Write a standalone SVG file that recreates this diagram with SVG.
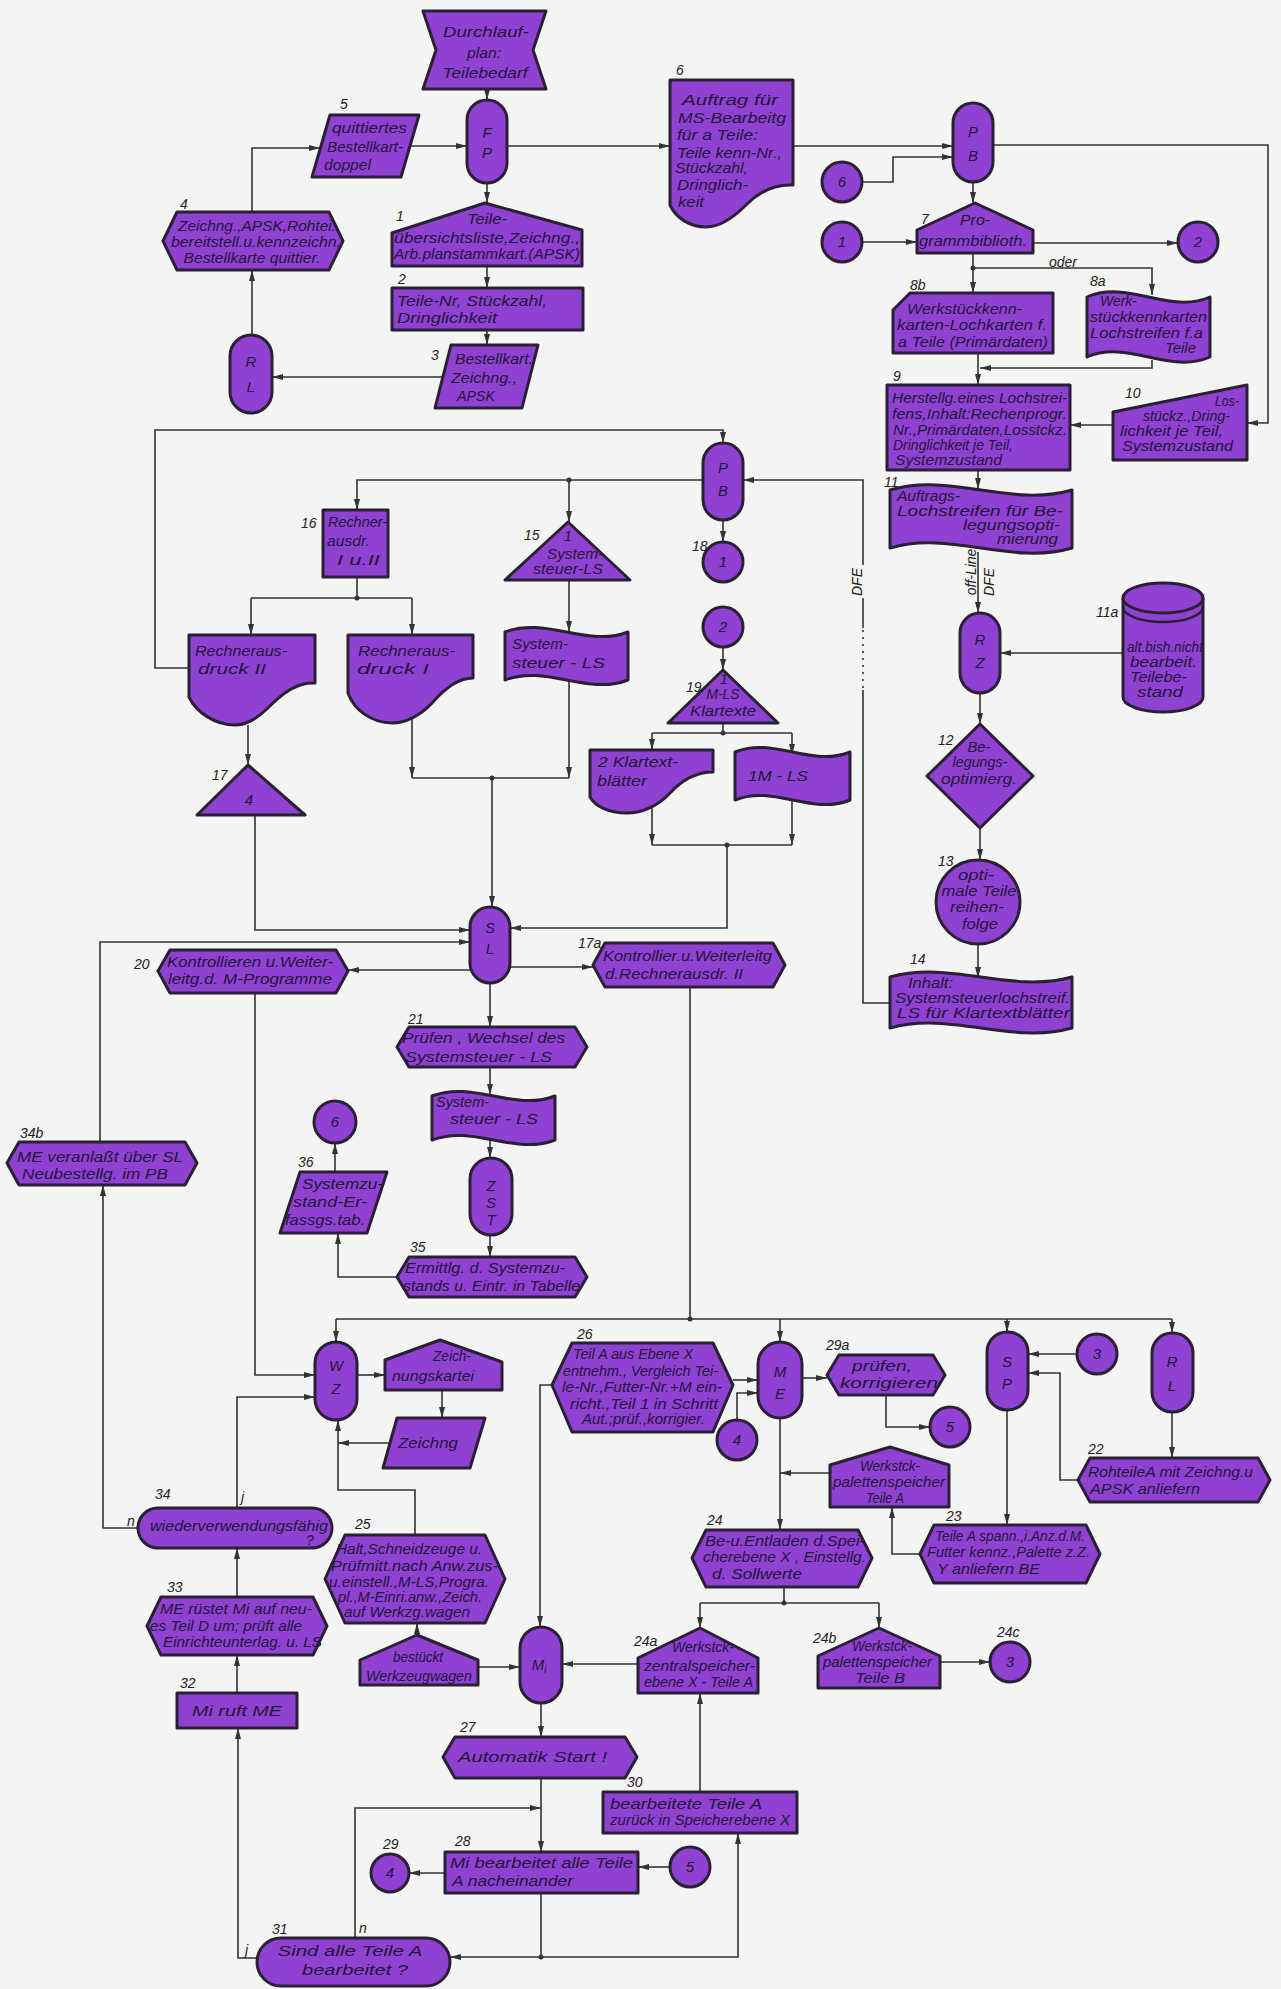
<svg xmlns="http://www.w3.org/2000/svg" width="1281" height="1989" viewBox="0 0 1281 1989">
<defs>
<style>
.n{fill:#8f42d2;stroke:#2b1f36;stroke-width:3;stroke-linejoin:round}
.c path{fill:none;stroke:#333;stroke-width:1.6}
.t{font-family:"Liberation Sans",Arial,sans-serif;font-style:italic;font-size:14px;fill:#24143a}
.m{text-anchor:middle}
.k{font-size:15px}
.l{font-family:"Liberation Sans",Arial,sans-serif;font-style:italic;font-size:14px;fill:#222}
.d{fill:#333}
</style>
<marker id="a" markerWidth="12" markerHeight="8" refX="11" refY="4" orient="auto" markerUnits="userSpaceOnUse"><path d="M0,1 L11,4 L0,7 Z" fill="#333"/></marker>
</defs>
<rect width="1281" height="1989" fill="#f4f4f2"/>

<g class="c" id="connectors">
<path d="M487,89V100" marker-end="url(#a)"/>
<path d="M409,146H467" marker-end="url(#a)"/>
<path d="M507,146H670" marker-end="url(#a)"/>
<path d="M487,183V203" marker-end="url(#a)"/>
<path d="M487,266V288" marker-end="url(#a)"/>
<path d="M487,330V345" marker-end="url(#a)"/>
<path d="M443,377H272" marker-end="url(#a)"/>
<path d="M252,335V270" marker-end="url(#a)"/>
<path d="M252,212V148H320" marker-end="url(#a)"/>
<path d="M793,146H953" marker-end="url(#a)"/>
<path d="M862,182H893V157H953" marker-end="url(#a)"/>
<path d="M862,242H917" marker-end="url(#a)"/>
<path d="M973,182V203" marker-end="url(#a)"/>
<path d="M993,145H1268V423H1247" marker-end="url(#a)"/>
<path d="M1033,243H1178" marker-end="url(#a)"/>
<path d="M973,253V293" marker-end="url(#a)"/>
<path d="M973,268H1152V295" marker-end="url(#a)"/>
<path d="M1152,360V368H980" marker-end="url(#a)"/>
<path d="M978,353V385" marker-end="url(#a)"/>
<path d="M1113,425H1070" marker-end="url(#a)"/>
<path d="M978,470V489" marker-end="url(#a)"/>
<path d="M978,552V613" marker-end="url(#a)"/>
<path d="M1123,653H1000" marker-end="url(#a)"/>
<path d="M980,693V724" marker-end="url(#a)"/>
<path d="M980,828V860" marker-end="url(#a)"/>
<path d="M978,944V978" marker-end="url(#a)"/>
<path d="M890,1003H863V690"/>
<path d="M863,688V628" stroke-dasharray="2 5"/>
<path d="M863,628V598"/>
<path d="M863,565V480H743" marker-end="url(#a)"/>
<path d="M723,520V542" marker-end="url(#a)"/>
<path d="M723,647V670" marker-end="url(#a)"/>
<path d="M723,723V733M652,733H792"/>
<path d="M652,733V750" marker-end="url(#a)"/>
<path d="M792,733V755" marker-end="url(#a)"/>
<path d="M652,808V845" marker-end="url(#a)"/>
<path d="M792,800V845" marker-end="url(#a)"/>
<path d="M652,845H792"/>
<path d="M727,845V928H510" marker-end="url(#a)"/>
<path d="M703,480H357V510" marker-end="url(#a)"/>
<path d="M569,480V522" marker-end="url(#a)"/>
<path d="M189,668H155V430H723V443" marker-end="url(#a)"/>
<path d="M357,577V598M251,598H412"/>
<path d="M251,598V635" marker-end="url(#a)"/>
<path d="M412,598V635" marker-end="url(#a)"/>
<path d="M248,725V765" marker-end="url(#a)"/>
<path d="M255,815V930H470" marker-end="url(#a)"/>
<path d="M412,712V778" marker-end="url(#a)"/>
<path d="M569,680V778" marker-end="url(#a)"/>
<path d="M412,778H569"/>
<path d="M492,778V907" marker-end="url(#a)"/>
<path d="M569,580V632" marker-end="url(#a)"/>
<path d="M510,967H593" marker-end="url(#a)"/>
<path d="M470,970H348" marker-end="url(#a)"/>
<path d="M100,1142V942H470" marker-end="url(#a)"/>
<path d="M255,993V1375H315" marker-end="url(#a)"/>
<path d="M690,987V1319M336,1319H1172"/>
<path d="M336,1319V1342" marker-end="url(#a)"/>
<path d="M780,1319V1342" marker-end="url(#a)"/>
<path d="M1007,1319V1332" marker-end="url(#a)"/>
<path d="M1172,1319V1333" marker-end="url(#a)"/>
<path d="M490,983V1027" marker-end="url(#a)"/>
<path d="M490,1067V1095" marker-end="url(#a)"/>
<path d="M490,1140V1158" marker-end="url(#a)"/>
<path d="M490,1235V1257" marker-end="url(#a)"/>
<path d="M397,1277H338V1233" marker-end="url(#a)"/>
<path d="M335,1172V1143" marker-end="url(#a)"/>
<path d="M357,1375H385" marker-end="url(#a)"/>
<path d="M442,1390V1418" marker-end="url(#a)"/>
<path d="M390,1443H338" marker-end="url(#a)"/>
<path d="M338,1443V1420" marker-end="url(#a)"/>
<path d="M338,1443V1490H415V1535"/>
<path d="M237,1508V1397H315" marker-end="url(#a)"/>
<path d="M138,1528H103V1185" marker-end="url(#a)"/>
<path d="M237,1597V1548" marker-end="url(#a)"/>
<path d="M237,1693V1655" marker-end="url(#a)"/>
<path d="M257,1958H238V1728" marker-end="url(#a)"/>
<path d="M355,1938V1808H541" marker-end="url(#a)"/>
<path d="M541,1778V1852" marker-end="url(#a)"/>
<path d="M541,1703V1737" marker-end="url(#a)"/>
<path d="M552,1385H540V1627" marker-end="url(#a)"/>
<path d="M417,1635V1623" marker-end="url(#a)"/>
<path d="M478,1667H520" marker-end="url(#a)"/>
<path d="M638,1664H562" marker-end="url(#a)"/>
<path d="M700,1792V1693" marker-end="url(#a)"/>
<path d="M541,1893V1957H450" marker-end="url(#a)"/>
<path d="M541,1957H738V1833" marker-end="url(#a)"/>
<path d="M670,1867H638" marker-end="url(#a)"/>
<path d="M445,1873H409" marker-end="url(#a)"/>
<path d="M733,1380H758" marker-end="url(#a)"/>
<path d="M737,1420V1393H758" marker-end="url(#a)"/>
<path d="M802,1378H827" marker-end="url(#a)"/>
<path d="M886,1395V1427H930" marker-end="url(#a)"/>
<path d="M780,1418V1530" marker-end="url(#a)"/>
<path d="M830,1473H780" marker-end="url(#a)"/>
<path d="M784,1587V1603M700,1603H879"/>
<path d="M700,1603V1628" marker-end="url(#a)"/>
<path d="M879,1603V1628" marker-end="url(#a)"/>
<path d="M940,1662H990" marker-end="url(#a)"/>
<path d="M1077,1354H1028" marker-end="url(#a)"/>
<path d="M1078,1480H1060V1373H1028" marker-end="url(#a)"/>
<path d="M1172,1412V1458" marker-end="url(#a)"/>
<path d="M1007,1410V1525" marker-end="url(#a)"/>
<path d="M920,1554H892V1507" marker-end="url(#a)"/>
<circle class="d" cx="973" cy="268" r="2.5"/>
<circle class="d" cx="569" cy="480" r="2.5"/>
<circle class="d" cx="357" cy="598" r="2.5"/>
<circle class="d" cx="723" cy="733" r="2.5"/>
<circle class="d" cx="727" cy="845" r="2.5"/>
<circle class="d" cx="492" cy="778" r="2.5"/>
<circle class="d" cx="690" cy="1319" r="2.5"/>
<circle class="d" cx="784" cy="1603" r="2.5"/>
<circle class="d" cx="541" cy="1957" r="2.5"/>
<text class="l" x="1063" y="267" text-anchor="middle" font-size="13">oder</text>
<text class="l" transform="translate(862,582) rotate(-90)" text-anchor="middle" font-size="12" font-style="normal">DFE</text>
<text class="l" transform="translate(976,572) rotate(-90)" text-anchor="middle" font-size="12">off-Line</text>
<text class="l" transform="translate(994,582) rotate(-90)" text-anchor="middle" font-size="12" font-style="normal">DFE</text>
<text class="l" x="127" y="1526">n</text>
<text class="l" x="241" y="1502">j</text>
<text class="l" x="245" y="1955">j</text>
<text class="l" x="359" y="1933">n</text>
</g>

<g id="n-durchlauf"><polygon class="n" points="423,11 546,11 533,50 546,89 423,89 436,50"/>
<text class="t m" x="486" y="37" textLength="86" lengthAdjust="spacingAndGlyphs">Durchlauf-</text><text class="t m" x="484" y="58" textLength="34" lengthAdjust="spacingAndGlyphs">plan:</text><text class="t m" x="485" y="78" textLength="85" lengthAdjust="spacingAndGlyphs">Teilebedarf</text></g>
<g id="n-fp"><rect class="n" x="467" y="100" width="40" height="83" rx="20"/><text class="t m k" x="487" y="138">F</text><text class="t m k" x="487" y="158">P</text></g>
<g id="n5"><polygon class="n" points="330,115 419,115 401,177 312,177"/>
<text class="l" x="340" y="109">5</text>
<text class="t" x="332" y="133" textLength="75" lengthAdjust="spacingAndGlyphs">quittiertes</text><text class="t" x="327" y="152" textLength="76" lengthAdjust="spacingAndGlyphs">Bestellkart-</text><text class="t" x="324" y="170" textLength="47" lengthAdjust="spacingAndGlyphs">doppel</text></g>
<g id="n4"><polygon class="n" points="163,241 177,212 329,212 343,241 329,270 177,270"/>
<text class="l" x="180" y="209">4</text>
<text class="t m" x="257" y="231" textLength="158" lengthAdjust="spacingAndGlyphs">Zeichng.,APSK,Rohtei.</text><text class="t m" x="256" y="247" textLength="170" lengthAdjust="spacingAndGlyphs">bereitstell.u.kennzeichn.</text><text class="t m" x="252" y="263" textLength="137" lengthAdjust="spacingAndGlyphs">Bestellkarte quittier.</text></g>
<g id="n-rl1"><rect class="n" x="230" y="335" width="42" height="78" rx="21"/><text class="t m k" x="251" y="367">R</text><text class="t m k" x="251" y="392">L</text></g>
<g id="n1"><polygon class="n" points="392,233 485,203 582,230 582,266 392,266"/>
<text class="l" x="396" y="221">1</text>
<text class="t m" x="487" y="224" textLength="40" lengthAdjust="spacingAndGlyphs">Teile-</text><text class="t" x="394" y="243" textLength="186" lengthAdjust="spacingAndGlyphs">übersichtsliste,Zeichng.,</text><text class="t" x="394" y="259" textLength="186" lengthAdjust="spacingAndGlyphs">Arb.planstammkart.(APSK)</text></g>
<g id="n2"><rect class="n" x="392" y="288" width="191" height="42"/>
<text class="l" x="398" y="284">2</text>
<text class="t" x="397" y="306" textLength="150" lengthAdjust="spacingAndGlyphs">Teile-Nr, Stückzahl,</text><text class="t" x="397" y="323" textLength="100" lengthAdjust="spacingAndGlyphs">Dringlichkeit</text></g>
<g id="n3"><polygon class="n" points="451,345 538,345 522,408 435,408"/>
<text class="l" x="431" y="360" font-size="17">3</text>
<text class="t" x="455" y="364" textLength="78" lengthAdjust="spacingAndGlyphs">Bestellkart.</text><text class="t" x="451" y="383" textLength="66" lengthAdjust="spacingAndGlyphs">Zeichng.,</text><text class="t" x="457" y="401" textLength="38" lengthAdjust="spacingAndGlyphs">APSK</text></g>
<g id="n6"><path class="n" d="M670,80H793V185C776,184 760,191 746,205C733,218 720,227 706,227C690,227 676,218 670,205Z"/>
<text class="l" x="676" y="75">6</text>
<text class="t" x="682" y="105" textLength="96" lengthAdjust="spacingAndGlyphs">Auftrag für</text><text class="t" x="678" y="123" textLength="108" lengthAdjust="spacingAndGlyphs">MS-Bearbeitg</text><text class="t" x="677" y="140" textLength="81" lengthAdjust="spacingAndGlyphs">für a Teile:</text><text class="t" x="677" y="158" textLength="105" lengthAdjust="spacingAndGlyphs">Teile kenn-Nr.,</text><text class="t" x="675" y="173" textLength="73" lengthAdjust="spacingAndGlyphs">Stückzahl,</text><text class="t" x="677" y="190" textLength="71" lengthAdjust="spacingAndGlyphs">Dringlich-</text><text class="t" x="678" y="207" textLength="26" lengthAdjust="spacingAndGlyphs">keit</text></g>
<g id="n-pb1"><rect class="n" x="953" y="103" width="40" height="79" rx="20"/><text class="t m k" x="973" y="137">P</text><text class="t m k" x="973" y="161">B</text></g>
<g id="c6a"><circle class="n" cx="842" cy="182" r="20"/><text class="t m k" x="842" y="187">6</text></g>
<g id="c1a"><circle class="n" cx="842" cy="242" r="20"/><text class="t m k" x="842" y="247">1</text></g>
<g id="c2a"><circle class="n" cx="1198" cy="242" r="20"/><text class="t m k" x="1198" y="247">2</text></g>
<g id="n7"><polygon class="n" points="917,230 975,203 1033,230 1033,253 917,253"/>
<text class="l" x="921" y="224">7</text>
<text class="t m" x="975" y="225" textLength="30" lengthAdjust="spacingAndGlyphs">Pro-</text><text class="t" x="919" y="246" textLength="108" lengthAdjust="spacingAndGlyphs">grammbiblioth.</text></g>
<g id="n8b"><path class="n" d="M910,293H1053V353H893V310Z"/>
<text class="l" x="910" y="290">8b</text>
<text class="t" x="907" y="314" textLength="115" lengthAdjust="spacingAndGlyphs">Werkstückkenn-</text><text class="t" x="897" y="330" textLength="150" lengthAdjust="spacingAndGlyphs">karten-Lochkarten f.</text><text class="t" x="898" y="347" textLength="150" lengthAdjust="spacingAndGlyphs">a Teile (Primärdaten)</text></g>
<g id="n8a"><path class="n" d="M1087,297C1128,279 1169,315 1210,297V357C1169,375 1128,339 1087,357Z"/>
<text class="l" x="1090" y="286">8a</text>
<text class="t" x="1100" y="306" textLength="37" lengthAdjust="spacingAndGlyphs">Werk-</text><text class="t" x="1090" y="322" textLength="117" lengthAdjust="spacingAndGlyphs">stückkennkarten</text><text class="t" x="1090" y="338" textLength="113" lengthAdjust="spacingAndGlyphs">Lochstreifen f.a</text><text class="t" x="1165" y="353" textLength="31" lengthAdjust="spacingAndGlyphs">Teile</text></g>
<g id="n9"><rect class="n" x="887" y="385" width="183" height="85"/>
<text class="l" x="893" y="381">9</text>
<text class="t" x="892" y="403" textLength="175" lengthAdjust="spacingAndGlyphs">Herstellg.eines Lochstrei-</text><text class="t" x="892" y="419" textLength="175" lengthAdjust="spacingAndGlyphs">fens,Inhalt:Rechenprogr.</text><text class="t" x="893" y="435" textLength="174" lengthAdjust="spacingAndGlyphs">Nr.,Primärdaten,Losstckz.</text><text class="t" x="893" y="450" textLength="120" lengthAdjust="spacingAndGlyphs">Dringlichkeit je Teil,</text><text class="t" x="895" y="465" textLength="107" lengthAdjust="spacingAndGlyphs">Systemzustand</text></g>
<g id="n10"><polygon class="n" points="1113,412 1247,385 1247,460 1113,460"/>
<text class="l" x="1125" y="398">10</text>
<text class="t" x="1215" y="406" textLength="24" lengthAdjust="spacingAndGlyphs">Los-</text><text class="t" x="1143" y="421" textLength="87" lengthAdjust="spacingAndGlyphs">stückz.,Dring-</text><text class="t" x="1120" y="436" textLength="103" lengthAdjust="spacingAndGlyphs">lichkeit je Teil,</text><text class="t" x="1122" y="451" textLength="111" lengthAdjust="spacingAndGlyphs">Systemzustand</text></g>
<g id="n11"><path class="n" d="M890,490C951,472 1011,508 1072,490V548C1011,566 951,530 890,548Z"/>
<text class="l" x="884" y="487">11</text>
<text class="t" x="897" y="501" textLength="63" lengthAdjust="spacingAndGlyphs">Auftrags-</text><text class="t" x="897" y="516" textLength="166" lengthAdjust="spacingAndGlyphs">Lochstreifen für  Be-</text><text class="t" x="963" y="530" textLength="97" lengthAdjust="spacingAndGlyphs">legungsopti-</text><text class="t" x="997" y="544" textLength="61" lengthAdjust="spacingAndGlyphs">mierung</text></g>
<g id="n11a"><path class="n" d="M1123,598V697A40,15 0 0 0 1203,697V598"/><ellipse class="n" cx="1163" cy="598" rx="40" ry="15"/><path d="M1123,607A40,15 0 0 0 1203,607" fill="none" stroke="#2b1f36" stroke-width="2.5"/>
<text class="l" x="1096" y="617">11a</text>
<text class="t" x="1127" y="652" textLength="76" lengthAdjust="spacingAndGlyphs">alt.bish.nicht</text><text class="t" x="1130" y="667" textLength="67" lengthAdjust="spacingAndGlyphs">bearbeit.</text><text class="t" x="1130" y="682" textLength="57" lengthAdjust="spacingAndGlyphs">Teilebe-</text><text class="t" x="1137" y="697" textLength="46" lengthAdjust="spacingAndGlyphs">stand</text></g>
<g id="n-rz"><rect class="n" x="960" y="613" width="40" height="80" rx="20"/><text class="t m k" x="980" y="645">R</text><text class="t m k" x="980" y="668">Z</text></g>
<g id="n12"><polygon class="n" points="980,724 1033,776 980,828 927,776"/>
<text class="l" x="938" y="745">12</text>
<text class="t m" x="979" y="752" textLength="23" lengthAdjust="spacingAndGlyphs">Be-</text><text class="t m" x="980" y="767" textLength="55" lengthAdjust="spacingAndGlyphs">legungs-</text><text class="t m" x="979" y="784" textLength="76" lengthAdjust="spacingAndGlyphs">optimierg.</text></g>
<g id="n13"><circle class="n" cx="978" cy="902" r="42"/>
<text class="l" x="938" y="866">13</text>
<text class="t m" x="976" y="880" textLength="36" lengthAdjust="spacingAndGlyphs">opti-</text><text class="t m" x="979" y="896" textLength="75" lengthAdjust="spacingAndGlyphs">male Teile</text><text class="t m" x="977" y="912" textLength="54" lengthAdjust="spacingAndGlyphs">reihen-</text><text class="t m" x="980" y="929" textLength="36" lengthAdjust="spacingAndGlyphs">folge</text></g>
<g id="n14"><path class="n" d="M890,977C951,960 1011,994 1072,977V1028C1011,1045 951,1011 890,1028Z"/>
<text class="l" x="910" y="964">14</text>
<text class="t" x="908" y="988" textLength="45" lengthAdjust="spacingAndGlyphs">Inhalt:</text><text class="t" x="895" y="1003" textLength="175" lengthAdjust="spacingAndGlyphs">Systemsteuerlochstreif.</text><text class="t" x="897" y="1018" textLength="173" lengthAdjust="spacingAndGlyphs">LS für Klartextblätter</text></g>
<g id="n-pb2"><rect class="n" x="703" y="443" width="40" height="77" rx="20"/><text class="t m k" x="723" y="473">P</text><text class="t m k" x="723" y="496">B</text></g>
<g id="n18"><circle class="n" cx="723" cy="562" r="20"/><text class="t m k" x="723" y="567">1</text><text class="l" x="692" y="551">18</text></g>
<g id="c2b"><circle class="n" cx="723" cy="627" r="20"/><text class="t m k" x="723" y="632">2</text></g>
<g id="n16"><rect class="n" x="323" y="510" width="65" height="67"/>
<text class="l" x="301" y="528">16</text>
<text class="t" x="328" y="527" textLength="59" lengthAdjust="spacingAndGlyphs">Rechner-</text><text class="t" x="327" y="546" textLength="43" lengthAdjust="spacingAndGlyphs">ausdr.</text><text class="t" x="337" y="565" textLength="43" lengthAdjust="spacingAndGlyphs">I u.II</text></g>
<g id="n-ra2"><path class="n" d="M189,635H315V683C300,682 286,690 272,704C259,717 248,725 235,725C215,725 196,712 189,697Z"/>
<text class="t" x="195" y="656" textLength="92" lengthAdjust="spacingAndGlyphs">Rechneraus-</text><text class="t" x="198" y="674" textLength="68" lengthAdjust="spacingAndGlyphs">druck  II</text></g>
<g id="n-ra1"><path class="n" d="M348,635H473V678C458,678 445,688 432,703C420,716 405,723 392,723C372,723 354,710 348,693Z"/>
<text class="t" x="358" y="656" textLength="97" lengthAdjust="spacingAndGlyphs">Rechneraus-</text><text class="t" x="357" y="674" textLength="72" lengthAdjust="spacingAndGlyphs">druck  I</text></g>
<g id="n17"><polygon class="n" points="248,765 305,815 197,815"/><text class="t m k" x="249" y="805">4</text><text class="l" x="212" y="780">17</text></g>
<g id="n15"><polygon class="n" points="568,522 630,580 505,580"/>
<text class="l" x="524" y="540">15</text>
<text class="t m" x="568" y="541" font-size="11">1</text><text class="t" x="547" y="559" textLength="56" lengthAdjust="spacingAndGlyphs">System-</text><text class="t" x="533" y="574" textLength="70" lengthAdjust="spacingAndGlyphs">steuer-LS</text></g>
<g id="n-tape1"><path class="n" d="M505,632C546,616 587,648 628,632V680C587,696 546,664 505,680Z"/>
<text class="t" x="512" y="649" textLength="56" lengthAdjust="spacingAndGlyphs">System-</text><text class="t" x="512" y="668" textLength="93" lengthAdjust="spacingAndGlyphs">steuer  -  LS</text></g>
<g id="n19"><polygon class="n" points="723,670 778,723 668,723"/>
<text class="l" x="686" y="692">19</text>
<text class="t m" x="724" y="684" font-size="11">1</text><text class="t m" x="723" y="699" textLength="33" lengthAdjust="spacingAndGlyphs">M-LS</text><text class="t m" x="723" y="716" textLength="66" lengthAdjust="spacingAndGlyphs">Klartexte</text></g>
<g id="n-klar"><path class="n" d="M590,750H713V772C696,772 682,780 670,793C658,806 642,813 627,813C608,813 595,806 590,797Z"/>
<text class="t" x="598" y="767" textLength="80" lengthAdjust="spacingAndGlyphs">2 Klartext-</text><text class="t" x="597" y="786" textLength="50" lengthAdjust="spacingAndGlyphs">blätter</text></g>
<g id="n-mls"><path class="n" d="M735,752C773,736 812,768 850,752V800C812,816 773,784 735,800Z"/>
<text class="t" x="748" y="781" textLength="60" lengthAdjust="spacingAndGlyphs">1M - LS</text></g>
<g id="n-sl"><rect class="n" x="470" y="907" width="40" height="76" rx="20"/><text class="t m k" x="490" y="933">S</text><text class="t m k" x="490" y="954">L</text></g>
<g id="n17a"><polygon class="n" points="593,965 605,943 773,943 785,965 773,987 605,987"/>
<text class="l" x="578" y="948">17a</text>
<text class="t" x="603" y="961" textLength="169" lengthAdjust="spacingAndGlyphs">Kontrollier.u.Weiterleitg</text><text class="t" x="605" y="979" textLength="138" lengthAdjust="spacingAndGlyphs">d.Rechnerausdr. II</text></g>
<g id="n20"><polygon class="n" points="158,971 170,950 336,950 348,971 336,993 170,993"/>
<text class="l" x="134" y="969">20</text>
<text class="t" x="167" y="967" textLength="166" lengthAdjust="spacingAndGlyphs">Kontrollieren u.Weiter-</text><text class="t" x="168" y="984" textLength="164" lengthAdjust="spacingAndGlyphs">leitg.d. M-Programme</text></g>
<g id="n21"><polygon class="n" points="397,1047 409,1027 575,1027 587,1047 575,1067 409,1067"/>
<text class="l" x="408" y="1024">21</text>
<text class="t" x="402" y="1043" textLength="163" lengthAdjust="spacingAndGlyphs">Prüfen , Wechsel des</text><text class="t" x="405" y="1062" textLength="147" lengthAdjust="spacingAndGlyphs">Systemsteuer - LS</text></g>
<g id="n-tape2"><path class="n" d="M432,1096C473,1080 514,1112 555,1096V1140C514,1156 473,1124 432,1140Z"/>
<text class="t" x="436" y="1107" textLength="53" lengthAdjust="spacingAndGlyphs">System-</text><text class="t" x="450" y="1124" textLength="88" lengthAdjust="spacingAndGlyphs">steuer - LS</text></g>
<g id="n-zst"><rect class="n" x="470" y="1158" width="42" height="77" rx="21"/><text class="t m k" x="491" y="1191">Z</text><text class="t m k" x="491" y="1208">S</text><text class="t m k" x="491" y="1225">T</text></g>
<g id="n35"><polygon class="n" points="397,1277 409,1257 575,1257 587,1277 575,1297 409,1297"/>
<text class="l" x="410" y="1252">35</text>
<text class="t" x="405" y="1273" textLength="160" lengthAdjust="spacingAndGlyphs">Ermittlg. d. Systemzu-</text><text class="t" x="403" y="1291" textLength="177" lengthAdjust="spacingAndGlyphs">stands u. Eintr. in Tabelle</text></g>
<g id="c6b"><circle class="n" cx="335" cy="1122" r="21"/><text class="t m k" x="335" y="1127">6</text></g>
<g id="n36"><polygon class="n" points="300,1172 387,1172 367,1233 280,1233"/>
<text class="l" x="298" y="1167">36</text>
<text class="t" x="302" y="1189" textLength="81" lengthAdjust="spacingAndGlyphs">Systemzu-</text><text class="t" x="293" y="1207" textLength="74" lengthAdjust="spacingAndGlyphs">stand-Er-</text><text class="t" x="285" y="1225" textLength="80" lengthAdjust="spacingAndGlyphs">fassgs.tab.</text></g>
<g id="n34b"><polygon class="n" points="7,1163 19,1142 185,1142 197,1163 185,1185 19,1185"/>
<text class="l" x="20" y="1138">34b</text>
<text class="t" x="17" y="1162" textLength="166" lengthAdjust="spacingAndGlyphs">ME veranlaßt über SL</text><text class="t" x="22" y="1179" textLength="146" lengthAdjust="spacingAndGlyphs">Neubestellg. im  PB</text></g>
<g id="n-wz"><rect class="n" x="315" y="1342" width="42" height="78" rx="21"/><text class="t m k" x="336" y="1371">W</text><text class="t m k" x="336" y="1394">Z</text></g>
<g id="n-zk"><polygon class="n" points="385,1390 385,1360 440,1340 502,1362 502,1390"/>
<text class="t" x="433" y="1361" textLength="38" lengthAdjust="spacingAndGlyphs">Zeich-</text><text class="t" x="392" y="1381" textLength="82" lengthAdjust="spacingAndGlyphs">nungskartei</text></g>
<g id="n-zg"><polygon class="n" points="397,1418 485,1418 470,1468 383,1468"/>
<text class="t" x="398" y="1448" textLength="60" lengthAdjust="spacingAndGlyphs">Zeichng</text></g>
<g id="n26"><polygon class="n" points="552,1385 572,1343 713,1343 733,1385 713,1432 572,1432"/>
<text class="l" x="577" y="1339">26</text>
<text class="t" x="573" y="1359" textLength="120" lengthAdjust="spacingAndGlyphs">Teil A aus Ebene X</text><text class="t" x="563" y="1376" textLength="155" lengthAdjust="spacingAndGlyphs">entnehm., Vergleich Tei-</text><text class="t" x="562" y="1392" textLength="160" lengthAdjust="spacingAndGlyphs">le-Nr.,Futter-Nr.+M ein-</text><text class="t" x="570" y="1409" textLength="148" lengthAdjust="spacingAndGlyphs">richt.,Teil 1 in Schritt</text><text class="t" x="582" y="1424" textLength="123" lengthAdjust="spacingAndGlyphs">Aut.;prüf.,korrigier.</text></g>
<g id="n-me"><rect class="n" x="758" y="1342" width="44" height="76" rx="22"/><text class="t m k" x="780" y="1377">M</text><text class="t m k" x="780" y="1399">E</text></g>
<g id="c4a"><circle class="n" cx="737" cy="1440" r="20"/><text class="t m k" x="737" y="1445">4</text></g>
<g id="n29a"><polygon class="n" points="827,1375 839,1355 933,1355 945,1375 933,1395 839,1395"/>
<text class="l" x="826" y="1350">29a</text>
<text class="t" x="852" y="1371" textLength="60" lengthAdjust="spacingAndGlyphs">prüfen,</text><text class="t" x="840" y="1388" textLength="98" lengthAdjust="spacingAndGlyphs">korrigieren</text></g>
<g id="c5a"><circle class="n" cx="950" cy="1427" r="20"/><text class="t m k" x="950" y="1432">5</text></g>
<g id="n-sp"><rect class="n" x="987" y="1332" width="41" height="78" rx="20"/><text class="t m k" x="1007" y="1367">S</text><text class="t m k" x="1007" y="1389">P</text></g>
<g id="c3a"><circle class="n" cx="1097" cy="1354" r="20"/><text class="t m k" x="1097" y="1359">3</text></g>
<g id="n-rl2"><rect class="n" x="1152" y="1333" width="41" height="79" rx="20"/><text class="t m k" x="1172" y="1367">R</text><text class="t m k" x="1172" y="1391">L</text></g>
<g id="n22"><polygon class="n" points="1078,1480 1090,1458 1258,1458 1270,1480 1258,1502 1090,1502"/>
<text class="l" x="1088" y="1454">22</text>
<text class="t" x="1088" y="1477" textLength="165" lengthAdjust="spacingAndGlyphs">RohteileA mit Zeichng.u</text><text class="t" x="1090" y="1494" textLength="110" lengthAdjust="spacingAndGlyphs">APSK anliefern</text></g>
<g id="n-pala"><polygon class="n" points="830,1507 830,1465 890,1447 949,1465 949,1507"/>
<text class="t" x="860" y="1471" font-size="12" textLength="60" lengthAdjust="spacingAndGlyphs">Werkstck-</text><text class="t" x="833" y="1487" textLength="112" lengthAdjust="spacingAndGlyphs">palettenspeicher</text><text class="t" x="866" y="1503" font-size="12" textLength="38" lengthAdjust="spacingAndGlyphs">Teile A</text></g>
<g id="n23"><polygon class="n" points="920,1554 934,1525 1086,1525 1100,1554 1086,1583 934,1583"/>
<text class="l" x="946" y="1521">23</text>
<text class="t" x="935" y="1541" textLength="150" lengthAdjust="spacingAndGlyphs">Teile A spann.,i.Anz.d.M.</text><text class="t" x="927" y="1557" textLength="163" lengthAdjust="spacingAndGlyphs">Futter kennz.,Palette z.Z.</text><text class="t" x="937" y="1574" textLength="103" lengthAdjust="spacingAndGlyphs">Y anliefern  BE</text></g>
<g id="n24"><polygon class="n" points="692,1558 706,1530 858,1530 872,1558 858,1587 706,1587"/>
<text class="l" x="707" y="1525">24</text>
<text class="t" x="705" y="1546" textLength="160" lengthAdjust="spacingAndGlyphs">Be-u.Entladen d.Spei-</text><text class="t" x="703" y="1562" textLength="163" lengthAdjust="spacingAndGlyphs">cherebene X , Einstellg.</text><text class="t" x="712" y="1579" textLength="90" lengthAdjust="spacingAndGlyphs">d. Sollwerte</text></g>
<g id="n24a"><polygon class="n" points="638,1693 638,1658 700,1628 758,1658 758,1693"/>
<text class="l" x="634" y="1646">24a</text>
<text class="t" x="672" y="1652" font-size="12" textLength="62" lengthAdjust="spacingAndGlyphs">Werkstck-</text><text class="t" x="644" y="1671" textLength="111" lengthAdjust="spacingAndGlyphs">zentralspeicher-</text><text class="t" x="644" y="1687" textLength="109" lengthAdjust="spacingAndGlyphs">ebene X - Teile A</text></g>
<g id="n24b"><polygon class="n" points="818,1688 818,1656 879,1628 940,1656 940,1688"/>
<text class="l" x="813" y="1643">24b</text>
<text class="t" x="852" y="1651" font-size="12" textLength="60" lengthAdjust="spacingAndGlyphs">Werkstck-</text><text class="t" x="823" y="1667" textLength="109" lengthAdjust="spacingAndGlyphs">palettenspeicher</text><text class="t" x="855" y="1683" textLength="50" lengthAdjust="spacingAndGlyphs">Teile  B</text></g>
<g id="n24c"><circle class="n" cx="1010" cy="1662" r="20"/><text class="t m k" x="1010" y="1667">3</text><text class="l" x="997" y="1637">24c</text></g>
<g id="n-mi"><rect class="n" x="520" y="1627" width="42" height="76" rx="21"/><text class="t m k" x="539" y="1670">M<tspan font-size="10" dy="3">i</tspan></text></g>
<g id="n25"><polygon class="n" points="325,1579 345,1535 485,1535 505,1579 485,1623 345,1623"/>
<text class="l" x="355" y="1529">25</text>
<text class="t" x="336" y="1554" textLength="146" lengthAdjust="spacingAndGlyphs">Halt,Schneidzeuge u.</text><text class="t" x="331" y="1571" textLength="167" lengthAdjust="spacingAndGlyphs">Prüfmitt.nach Anw.zus-</text><text class="t" x="329" y="1587" textLength="160" lengthAdjust="spacingAndGlyphs">u.einstell.,M-LS,Progra.</text><text class="t" x="338" y="1602" textLength="144" lengthAdjust="spacingAndGlyphs">pl.,M-Einri.anw.,Zeich.</text><text class="t" x="344" y="1617" textLength="126" lengthAdjust="spacingAndGlyphs">auf Werkzg.wagen</text></g>
<g id="n-bw"><polygon class="n" points="360,1685 360,1660 417,1635 478,1660 478,1685"/>
<text class="t" x="393" y="1662" textLength="50" lengthAdjust="spacingAndGlyphs">bestückt</text><text class="t" x="366" y="1681" textLength="106" lengthAdjust="spacingAndGlyphs">Werkzeugwagen</text></g>
<g id="n34"><rect class="n" x="138" y="1508" width="194" height="40" rx="20"/>
<text class="l" x="155" y="1499">34</text>
<text class="t" x="150" y="1531" textLength="178" lengthAdjust="spacingAndGlyphs">wiederverwendungsfähig</text><text class="t" x="306" y="1545">?</text></g>
<g id="n33"><polygon class="n" points="147,1626 161,1597 313,1597 327,1626 313,1655 161,1655"/>
<text class="l" x="167" y="1592">33</text>
<text class="t" x="160" y="1614" textLength="152" lengthAdjust="spacingAndGlyphs">ME rüstet Mi auf neu-</text><text class="t" x="150" y="1631" textLength="152" lengthAdjust="spacingAndGlyphs">es Teil D um; prüft alle</text><text class="t" x="163" y="1647" textLength="159" lengthAdjust="spacingAndGlyphs">Einrichteunterlag. u. LS</text></g>
<g id="n32"><rect class="n" x="177" y="1693" width="120" height="35"/>
<text class="l" x="180" y="1688">32</text>
<text class="t m" x="237" y="1716" textLength="90" lengthAdjust="spacingAndGlyphs">Mi ruft ME</text></g>
<g id="n27"><polygon class="n" points="443,1757 455,1737 625,1737 637,1757 625,1778 455,1778"/>
<text class="l" x="460" y="1732">27</text>
<text class="t" x="458" y="1762" textLength="149" lengthAdjust="spacingAndGlyphs">Automatik  Start !</text></g>
<g id="n30"><rect class="n" x="603" y="1792" width="194" height="41"/>
<text class="l" x="627" y="1787">30</text>
<text class="t" x="610" y="1809" textLength="152" lengthAdjust="spacingAndGlyphs">bearbeitete  Teile  A</text><text class="t" x="610" y="1825" textLength="180" lengthAdjust="spacingAndGlyphs">zurück in Speicherebene X</text></g>
<g id="n28"><rect class="n" x="445" y="1852" width="193" height="41"/>
<text class="l" x="455" y="1846">28</text>
<text class="t" x="450" y="1868" textLength="183" lengthAdjust="spacingAndGlyphs">Mi bearbeitet alle Teile</text><text class="t" x="452" y="1886" textLength="121" lengthAdjust="spacingAndGlyphs">A nacheinander</text></g>
<g id="c5b"><circle class="n" cx="690" cy="1867" r="20"/><text class="t m k" x="690" y="1872">5</text></g>
<g id="n29"><circle class="n" cx="390" cy="1873" r="19"/><text class="t m k" x="390" y="1878">4</text><text class="l" x="383" y="1849">29</text></g>
<g id="n31"><rect class="n" x="257" y="1938" width="193" height="48" rx="24"/>
<text class="l" x="272" y="1934">31</text>
<text class="t m" x="350" y="1956" textLength="145" lengthAdjust="spacingAndGlyphs">Sind  alle  Teile  A</text><text class="t m" x="355" y="1975" textLength="106" lengthAdjust="spacingAndGlyphs">bearbeitet ?</text></g>
</svg>
